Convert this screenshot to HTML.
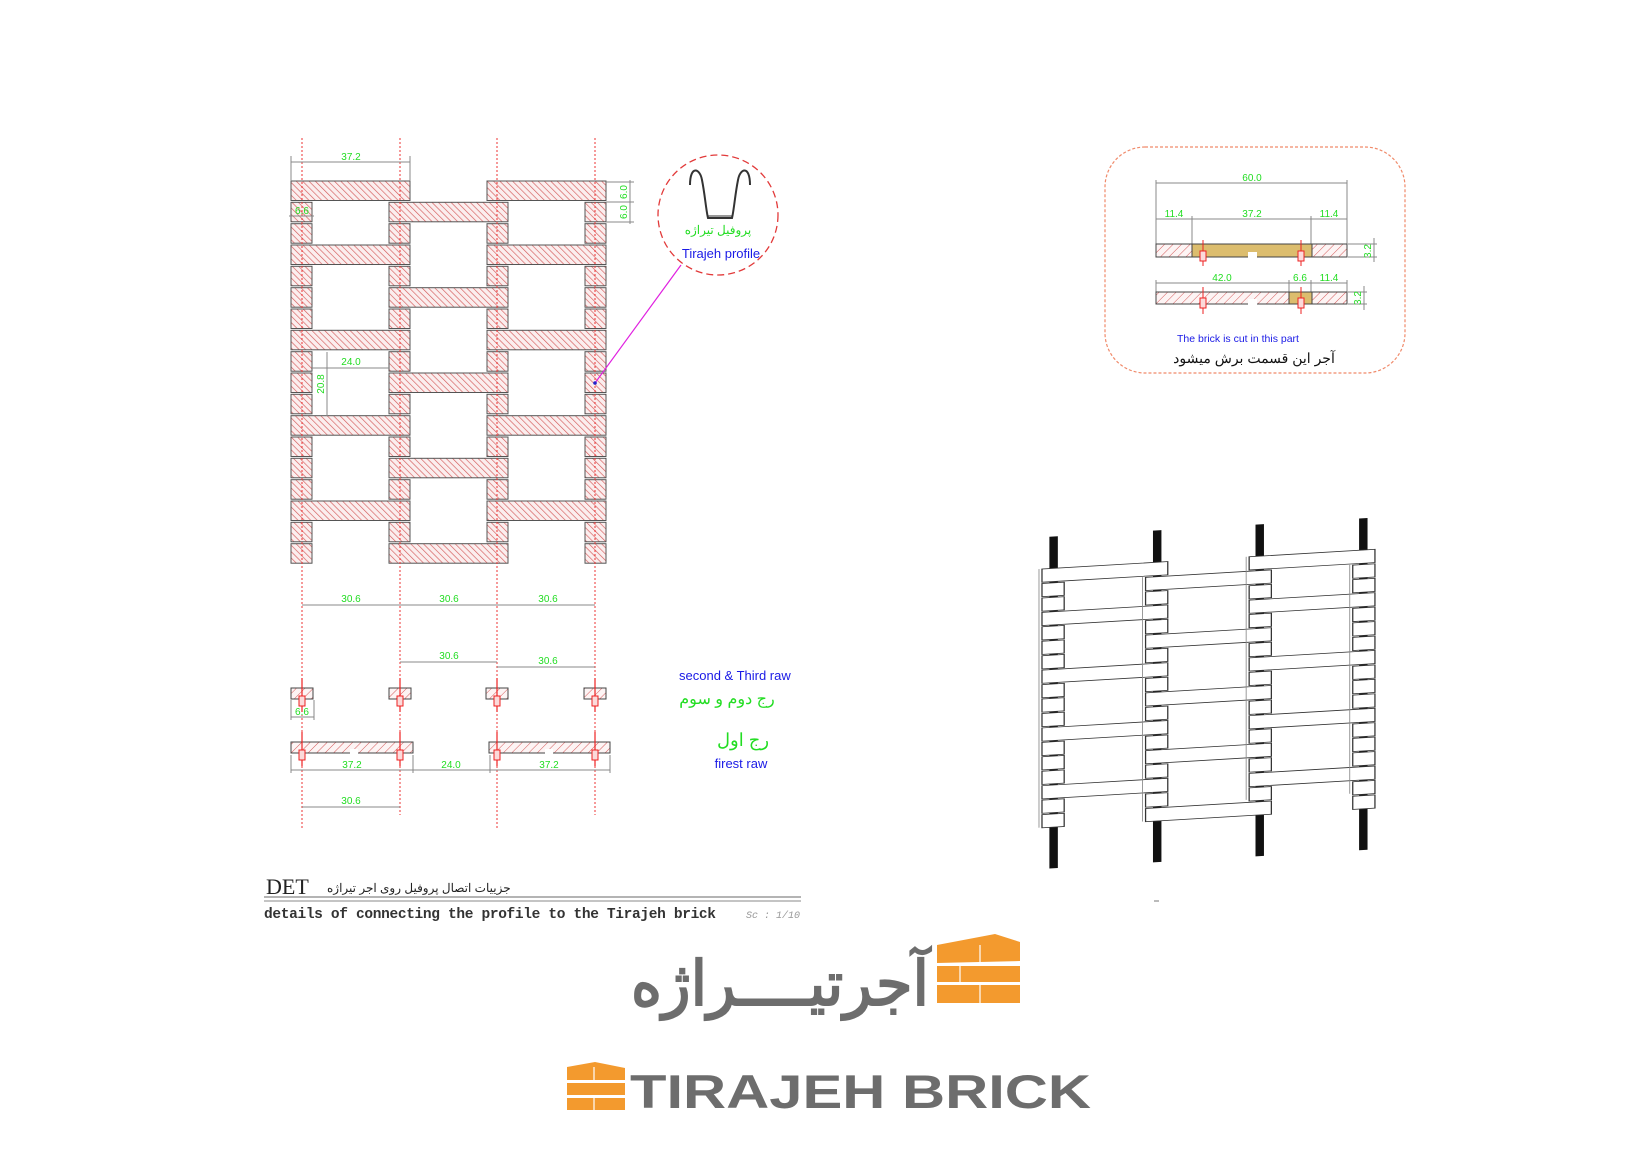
<!DOCTYPE html>
<html><head><meta charset="utf-8"><style>
html,body{margin:0;padding:0;background:#fff;}
svg{display:block;}
.g{fill:#22dd22;font-family:"Liberation Sans Narrow","Liberation Sans",sans-serif;font-size:10px;}
.b{fill:#1a1ae6;font-family:"Liberation Sans",sans-serif;}
.dim{stroke:#888;stroke-width:1;fill:none;}
.dot{stroke:#e33;stroke-width:1;stroke-dasharray:2 2;fill:none;}
</style></head><body>
<svg width="1650" height="1168" viewBox="0 0 1650 1168" xmlns="http://www.w3.org/2000/svg">
<defs>
<pattern id="h" width="4.5" height="4.5" patternUnits="userSpaceOnUse" patternTransform="rotate(-45)">
<rect width="4.5" height="4.5" fill="#fbeeee"/><line x1="0" y1="0" x2="0" y2="4.5" stroke="#d45a5a" stroke-width="1.3"/></pattern>
<pattern id="h2" width="6" height="6" patternUnits="userSpaceOnUse" patternTransform="rotate(45)">
<rect width="6" height="6" fill="#fdf4f4"/><line x1="0" y1="0" x2="0" y2="6" stroke="#d45a5a" stroke-width="1"/></pattern>
<g id="grid">
<rect x="291" y="181" width="119" height="19.5"/><rect x="487" y="181" width="119" height="19.5"/>
<rect x="291" y="202.3" width="21" height="19.5"/><rect x="389" y="202.3" width="119" height="19.5"/><rect x="585" y="202.3" width="21" height="19.5"/>
<rect x="291" y="223.7" width="21" height="19.5"/><rect x="389" y="223.7" width="21" height="19.5"/><rect x="487" y="223.7" width="21" height="19.5"/><rect x="585" y="223.7" width="21" height="19.5"/>
<rect x="291" y="245" width="119" height="19.5"/><rect x="487" y="245" width="119" height="19.5"/>
<rect x="291" y="266.3" width="21" height="19.5"/><rect x="389" y="266.3" width="21" height="19.5"/><rect x="487" y="266.3" width="21" height="19.5"/><rect x="585" y="266.3" width="21" height="19.5"/>
<rect x="291" y="287.7" width="21" height="19.5"/><rect x="389" y="287.7" width="119" height="19.5"/><rect x="585" y="287.7" width="21" height="19.5"/>
<rect x="291" y="309" width="21" height="19.5"/><rect x="389" y="309" width="21" height="19.5"/><rect x="487" y="309" width="21" height="19.5"/><rect x="585" y="309" width="21" height="19.5"/>
<rect x="291" y="330.3" width="119" height="19.5"/><rect x="487" y="330.3" width="119" height="19.5"/>
<rect x="291" y="351.7" width="21" height="19.5"/><rect x="389" y="351.7" width="21" height="19.5"/><rect x="487" y="351.7" width="21" height="19.5"/><rect x="585" y="351.7" width="21" height="19.5"/>
<rect x="291" y="373" width="21" height="19.5"/><rect x="389" y="373" width="119" height="19.5"/><rect x="585" y="373" width="21" height="19.5"/>
<rect x="291" y="394.3" width="21" height="19.5"/><rect x="389" y="394.3" width="21" height="19.5"/><rect x="487" y="394.3" width="21" height="19.5"/><rect x="585" y="394.3" width="21" height="19.5"/>
<rect x="291" y="415.7" width="119" height="19.5"/><rect x="487" y="415.7" width="119" height="19.5"/>
<rect x="291" y="437" width="21" height="19.5"/><rect x="389" y="437" width="21" height="19.5"/><rect x="487" y="437" width="21" height="19.5"/><rect x="585" y="437" width="21" height="19.5"/>
<rect x="291" y="458.3" width="21" height="19.5"/><rect x="389" y="458.3" width="119" height="19.5"/><rect x="585" y="458.3" width="21" height="19.5"/>
<rect x="291" y="479.7" width="21" height="19.5"/><rect x="389" y="479.7" width="21" height="19.5"/><rect x="487" y="479.7" width="21" height="19.5"/><rect x="585" y="479.7" width="21" height="19.5"/>
<rect x="291" y="501" width="119" height="19.5"/><rect x="487" y="501" width="119" height="19.5"/>
<rect x="291" y="522.3" width="21" height="19.5"/><rect x="389" y="522.3" width="21" height="19.5"/><rect x="487" y="522.3" width="21" height="19.5"/><rect x="585" y="522.3" width="21" height="19.5"/>
<rect x="291" y="543.7" width="21" height="19.5"/><rect x="389" y="543.7" width="119" height="19.5"/><rect x="585" y="543.7" width="21" height="19.5"/>
</g>
<g id="anc"><line x1="0" y1="-14" x2="0" y2="20" stroke="#e22" stroke-width="1.2"/><rect x="-3" y="4" width="6" height="10" fill="#fbdada" stroke="#e22" stroke-width="1"/></g>
</defs>

<use href="#grid" fill="url(#h)" stroke="#555" stroke-width="1"/>
<g class="dot">
<line x1="302" y1="138" x2="302" y2="830"/><line x1="400" y1="138" x2="400" y2="815"/>
<line x1="497" y1="138" x2="497" y2="830"/><line x1="595" y1="138" x2="595" y2="815"/>
</g>
<g class="dim">
<line x1="291" y1="162" x2="410" y2="162"/><line x1="291" y1="156" x2="291" y2="181"/><line x1="410" y1="156" x2="410" y2="181"/>
<line x1="606" y1="182" x2="634" y2="182"/><line x1="606" y1="202" x2="634" y2="202"/><line x1="606" y1="222" x2="634" y2="222"/><line x1="630" y1="180" x2="630" y2="224"/>
<line x1="289" y1="216" x2="314" y2="216"/>
<line x1="312" y1="368" x2="389" y2="368"/><line x1="327" y1="352" x2="327" y2="416"/>
</g>
<text class="g" x="351" y="160" text-anchor="middle">37.2</text>
<text class="g" transform="translate(627,192) rotate(-90)" text-anchor="middle">6.0</text>
<text class="g" transform="translate(627,212) rotate(-90)" text-anchor="middle">6.0</text>
<text class="g" x="302" y="214" text-anchor="middle" font-size="9">6.6</text>
<text class="g" x="351" y="365" text-anchor="middle">24.0</text>
<text class="g" transform="translate(324,384) rotate(-90)" text-anchor="middle">20.8</text>

<circle cx="718" cy="215" r="60" fill="none" stroke="#e23a3a" stroke-width="1.3" stroke-dasharray="7 4"/>
<path d="M690 185 C690 165 700 168 702 180 C705 195 706 210 708 218 L732 218 C734 210 735 195 738 180 C740 168 750 165 750 185" fill="none" stroke="#333" stroke-width="2"/>
<line x1="707" y1="216" x2="733" y2="216" stroke="#333" stroke-width="1"/>
<text x="718" y="234" text-anchor="middle" font-size="12" fill="#22dd22" font-family="'Liberation Sans','Noto Sans CJK SC',sans-serif">پروفیل تیراژه</text>
<text class="b" x="721" y="258" text-anchor="middle" font-size="13">Tirajeh profile</text>
<line x1="681" y1="265" x2="595" y2="383" stroke="#e020e0" stroke-width="1.2"/>
<circle cx="595" cy="383" r="1.8" fill="#22c"/>

<g class="dim">
<line x1="302" y1="605" x2="595" y2="605"/>
<line x1="400" y1="662" x2="497" y2="662"/><line x1="497" y1="667" x2="595" y2="667"/>
<line x1="291" y1="717" x2="314" y2="717"/><line x1="291" y1="700" x2="291" y2="720"/><line x1="314" y1="700" x2="314" y2="720"/>
<line x1="291" y1="770" x2="610" y2="770"/><line x1="291" y1="755" x2="291" y2="773"/><line x1="413" y1="755" x2="413" y2="773"/><line x1="490" y1="755" x2="490" y2="773"/><line x1="610" y1="755" x2="610" y2="773"/>
<line x1="302" y1="807" x2="400" y2="807"/>
</g>
<text class="g" x="351" y="602" text-anchor="middle">30.6</text>
<text class="g" x="449" y="602" text-anchor="middle">30.6</text>
<text class="g" x="548" y="602" text-anchor="middle">30.6</text>
<text class="g" x="449" y="659" text-anchor="middle">30.6</text>
<text class="g" x="548" y="664" text-anchor="middle">30.6</text>
<text class="g" x="302" y="715" text-anchor="middle" font-size="9">6.6</text>
<text class="g" x="352" y="768" text-anchor="middle">37.2</text>
<text class="g" x="451" y="768" text-anchor="middle">24.0</text>
<text class="g" x="549" y="768" text-anchor="middle">37.2</text>
<text class="g" x="351" y="804" text-anchor="middle">30.6</text>
<g fill="url(#h2)" stroke="#444" stroke-width="1">
<rect x="291" y="688" width="22" height="11"/><rect x="389" y="688" width="22" height="11"/>
<rect x="486" y="688" width="22" height="11"/><rect x="584" y="688" width="22" height="11"/>
<rect x="291" y="742" width="122" height="11"/><rect x="489" y="742" width="121" height="11"/>
</g>
<g fill="#fff"><rect x="350" y="749" width="8" height="5"/><rect x="545" y="749" width="8" height="5"/></g>
<use href="#anc" x="302" y="692"/><use href="#anc" x="400" y="692"/><use href="#anc" x="497" y="692"/><use href="#anc" x="595" y="692"/>
<use href="#anc" x="302" y="746"/><use href="#anc" x="400" y="746"/><use href="#anc" x="497" y="746"/><use href="#anc" x="595" y="746"/>

<text class="b" x="679" y="680" font-size="13">second &amp; Third raw</text>
<text x="727" y="704" text-anchor="middle" font-size="16" fill="#22dd22" font-family="'Liberation Sans','Noto Sans CJK SC',sans-serif">رج دوم و سوم</text>
<text x="743" y="746" text-anchor="middle" font-size="18" fill="#22dd22" font-family="'Liberation Sans','Noto Sans CJK SC',sans-serif">رج اول</text>
<text class="b" x="741" y="768" text-anchor="middle" font-size="13">firest raw</text>

<text x="266" y="894" font-family="'Liberation Serif',serif" font-size="22" fill="#222">DET</text>
<text x="327" y="892" font-family="'Liberation Sans','Noto Sans CJK SC',sans-serif" font-size="12" fill="#222">جزییات اتصال پروفیل روی اجر تیراژه</text>
<line x1="264" y1="897" x2="801" y2="897" stroke="#888" stroke-width="1.2"/>
<line x1="264" y1="901" x2="801" y2="901" stroke="#888" stroke-width="1"/>
<text x="264" y="918" font-family="'Liberation Mono',monospace" font-size="14.5" font-weight="bold" fill="#333" textLength="452">details of connecting the  profile to the Tirajeh brick</text>
<text x="746" y="918" font-family="'Liberation Mono',monospace" font-size="10" font-style="italic" fill="#999">Sc : 1/10</text>

<rect x="1105" y="147" width="300" height="226" rx="40" fill="none" stroke="#f08a6a" stroke-width="1.2" stroke-dasharray="3 2"/>
<g class="dim">
<line x1="1156" y1="183" x2="1347" y2="183"/><line x1="1156" y1="219" x2="1347" y2="219"/>
<line x1="1156" y1="180" x2="1156" y2="244"/><line x1="1347" y1="180" x2="1347" y2="244"/>
<line x1="1192" y1="216" x2="1192" y2="244"/><line x1="1311" y1="216" x2="1311" y2="244"/>
<line x1="1348" y1="244" x2="1377" y2="244"/><line x1="1348" y1="257" x2="1377" y2="257"/><line x1="1374" y1="238" x2="1374" y2="262"/>
<line x1="1156" y1="283" x2="1347" y2="283"/><line x1="1289" y1="280" x2="1289" y2="292"/><line x1="1311" y1="280" x2="1311" y2="292"/>
<line x1="1156" y1="280" x2="1156" y2="292"/><line x1="1347" y1="280" x2="1347" y2="292"/>
<line x1="1348" y1="292" x2="1367" y2="292"/><line x1="1348" y1="304" x2="1367" y2="304"/><line x1="1364" y1="286" x2="1364" y2="310"/>
</g>
<text class="g" x="1252" y="181" text-anchor="middle">60.0</text>
<text class="g" x="1174" y="217" text-anchor="middle">11.4</text>
<text class="g" x="1252" y="217" text-anchor="middle">37.2</text>
<text class="g" x="1329" y="217" text-anchor="middle">11.4</text>
<text class="g" x="1222" y="281" text-anchor="middle">42.0</text>
<text class="g" x="1300" y="281" text-anchor="middle">6.6</text>
<text class="g" x="1329" y="281" text-anchor="middle">11.4</text>
<text class="g" transform="translate(1371,251) rotate(-90)" text-anchor="middle" font-size="8">3.2</text>
<text class="g" transform="translate(1361,298) rotate(-90)" text-anchor="middle" font-size="8">3.2</text>
<g stroke="#444" stroke-width="1">
<rect x="1156" y="244" width="191" height="13" fill="url(#h2)"/>
<rect x="1192" y="244" width="120" height="13" fill="#dcbd6e"/>
<rect x="1156" y="292" width="191" height="12" fill="url(#h2)"/>
<rect x="1289" y="292" width="23" height="12" fill="#dcbd6e"/>
</g>
<g fill="#fff"><rect x="1248" y="252" width="9" height="6"/><rect x="1248" y="299" width="9" height="6"/></g>
<g stroke="#e22" stroke-width="1" fill="#fbdada">
<line x1="1203" y1="240" x2="1203" y2="266"/><rect x="1200" y="251" width="6" height="10"/>
<line x1="1301" y1="240" x2="1301" y2="266"/><rect x="1298" y="251" width="6" height="10"/>
<line x1="1203" y1="287" x2="1203" y2="314"/><rect x="1200" y="298" width="6" height="10"/>
<line x1="1301" y1="287" x2="1301" y2="314"/><rect x="1298" y="298" width="6" height="10"/>
</g>
<text class="b" x="1177" y="342" font-size="10.5">The brick is cut in this part</text>
<text x="1254" y="363" text-anchor="middle" font-size="14" fill="#111" font-family="'Liberation Sans','Noto Sans CJK SC',sans-serif">آجر این قسمت برش میشود</text>

<g transform="matrix(1.057,-0.0625,0,0.677,734.4,464.7)">
<g fill="#111">
<rect x="298" y="134" width="8" height="490"/><rect x="396" y="134" width="8" height="490"/>
<rect x="493" y="134" width="8" height="490"/><rect x="591" y="134" width="8" height="490"/>
</g>
<use href="#grid" fill="#fff" stroke="#333" stroke-width="1.2" vector-effect="non-scaling-stroke"/>
</g>
<g transform="matrix(1.057,-0.0625,0,0.677,731.4,464.7)" fill="none" stroke="#888" stroke-width="0.8">
<line x1="291" y1="181" x2="291" y2="563"/><line x1="389" y1="202" x2="389" y2="563"/><line x1="487" y1="181" x2="487" y2="540"/><line x1="585" y1="202" x2="585" y2="540"/>
</g>
<line x1="1154" y1="901" x2="1159" y2="901" stroke="#777"/>

<g fill="#f39a2e">
<polygon points="937,945 995,934 1020,942 1020,961 937,963"/>
<rect x="937" y="966" width="83" height="16"/>
<rect x="937" y="985" width="83" height="18"/>
<polygon points="567,1067 595,1062 625,1068 625,1080 567,1080"/>
<rect x="567" y="1083" width="58" height="12"/>
<rect x="567" y="1098" width="58" height="12"/>
</g>
<g stroke="#fff" stroke-width="1.2"><line x1="980" y1="945" x2="980" y2="963"/><line x1="960" y1="966" x2="960" y2="982"/><line x1="980" y1="985" x2="980" y2="1003"/><line x1="594" y1="1067" x2="594" y2="1080"/><line x1="594" y1="1098" x2="594" y2="1110"/></g>
<text x="780" y="1005" text-anchor="middle" font-family="'Liberation Sans','Noto Sans CJK SC',sans-serif" font-size="62" font-weight="bold" fill="#6d6d6d" textLength="298" lengthAdjust="spacingAndGlyphs">آجرتیــــراژه</text>
<text x="630" y="1108" font-family="'Liberation Sans',sans-serif" font-size="47" font-weight="bold" fill="#6d6d6d" textLength="461" lengthAdjust="spacingAndGlyphs">TIRAJEH BRICK</text>
</svg>
</body></html>
